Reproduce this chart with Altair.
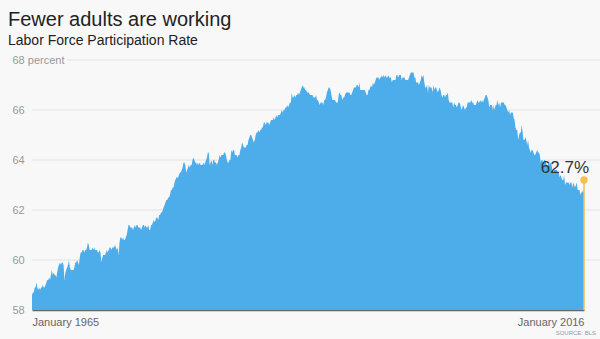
import altair as alt
import pandas as pd

# Monthly labor force participation rate (percent)
lfpr_1965_1969 = [
    58.6, 58.7, 58.7, 58.9, 58.9, 59.1, 58.9, 58.8, 58.9, 58.8, 58.9, 58.9,
    59.0, 58.9, 58.9, 59.0, 59.1, 59.2, 59.2, 59.3, 59.2, 59.4, 59.6, 59.4,
    59.5, 59.4, 59.4, 59.3, 59.5, 59.7, 59.8, 59.9, 59.8, 59.9, 59.9, 59.8,
    59.2, 59.5, 59.6, 59.7, 59.8, 60.0, 59.7, 59.6, 59.6, 59.6, 59.6, 59.7,
    59.9, 59.9, 60.0, 59.9, 59.8, 60.1, 60.3, 60.3, 60.4, 60.4, 60.3, 60.4,
]
lfpr_1970_1979 = [
    60.4, 60.5, 60.7, 60.6, 60.4, 60.4, 60.4, 60.5, 60.4, 60.5, 60.4, 60.4,
    60.4, 60.3, 60.3, 60.4, 60.3, 59.9, 60.1, 60.2, 60.2, 60.2, 60.3, 60.4,
    60.3, 60.4, 60.5, 60.5, 60.4, 60.5, 60.5, 60.5, 60.6, 60.5, 60.4, 60.5,
    60.2, 60.7, 60.9, 60.9, 60.8, 60.9, 60.8, 60.8, 60.9, 61.0, 61.2, 61.4,
    61.4, 61.3, 61.3, 61.3, 61.2, 61.3, 61.4, 61.3, 61.4, 61.4, 61.3, 61.3,
    61.3, 61.2, 61.3, 61.4, 61.4, 61.3, 61.4, 61.3, 61.3, 61.4, 61.2, 61.2,
    61.4, 61.4, 61.5, 61.6, 61.5, 61.6, 61.7, 61.7, 61.6, 61.8, 61.8, 61.9,
    61.9, 62.0, 62.1, 62.2, 62.3, 62.4, 62.4, 62.5, 62.5, 62.6, 62.8, 62.8,
    62.9, 62.9, 63.1, 63.2, 63.3, 63.3, 63.3, 63.4, 63.5, 63.5, 63.6, 63.7,
    63.9, 63.9, 63.8, 63.5, 63.6, 63.7, 63.8, 63.7, 63.8, 63.8, 64.0, 64.1,
]
lfpr_1980_1989 = [
    64.0, 63.9, 63.9, 63.8, 63.9, 63.8, 63.9, 63.8, 63.8, 63.8, 63.9, 63.8,
    63.9, 64.0, 64.1, 64.3, 64.3, 63.8, 63.9, 64.0, 63.8, 64.0, 64.0, 63.9,
    63.9, 63.8, 63.9, 64.0, 64.2, 64.1, 64.2, 64.2, 64.2, 64.3, 64.3, 64.2,
    64.0, 63.9, 63.9, 64.0, 64.0, 64.4, 64.3, 64.4, 64.4, 64.2, 64.2, 64.2,
    64.1, 64.2, 64.2, 64.4, 64.5, 64.7, 64.6, 64.5, 64.5, 64.5, 64.6, 64.6,
    64.8, 64.9, 65.0, 65.0, 64.9, 64.8, 64.7, 64.8, 65.0, 65.1, 65.1, 65.2,
    65.1, 65.2, 65.2, 65.3, 65.3, 65.5, 65.5, 65.4, 65.5, 65.5, 65.5, 65.4,
    65.5, 65.6, 65.6, 65.6, 65.7, 65.6, 65.7, 65.8, 65.7, 65.8, 65.8, 65.8,
    65.9, 66.0, 65.9, 66.0, 66.0, 66.1, 66.1, 66.2, 66.1, 66.2, 66.3, 66.3,
    66.7, 66.5, 66.5, 66.6, 66.5, 66.6, 66.6, 66.7, 66.6, 66.7, 66.8, 66.9,
]
lfpr_1990_1999 = [
    67.0, 66.9, 66.9, 66.8, 66.8, 66.7, 66.7, 66.7, 66.6, 66.6, 66.6, 66.6,
    66.5, 66.5, 66.5, 66.6, 66.4, 66.4, 66.3, 66.2, 66.3, 66.3, 66.3, 66.2,
    66.4, 66.4, 66.5, 66.7, 66.8, 66.9, 66.9, 66.8, 66.6, 66.4, 66.4, 66.4,
    66.4, 66.3, 66.3, 66.3, 66.6, 66.7, 66.6, 66.6, 66.4, 66.5, 66.5, 66.6,
    66.7, 66.7, 66.7, 66.7, 66.7, 66.6, 66.6, 66.7, 66.8, 66.9, 66.9, 66.9,
    67.0, 67.0, 66.9, 67.1, 66.8, 66.8, 66.8, 66.8, 66.8, 66.8, 66.7, 66.6,
    66.6, 66.8, 66.8, 66.9, 67.0, 66.9, 67.1, 67.0, 67.1, 67.2, 67.3, 67.3,
    67.3, 67.2, 67.3, 67.3, 67.4, 67.3, 67.4, 67.3, 67.4, 67.3, 67.3, 67.4,
    67.3, 67.3, 67.3, 67.1, 67.2, 67.2, 67.2, 67.2, 67.4, 67.4, 67.3, 67.4,
    67.4, 67.4, 67.2, 67.3, 67.3, 67.3, 67.2, 67.2, 67.2, 67.2, 67.3, 67.4,
]
lfpr_2000_2009 = [
    67.5, 67.5, 67.5, 67.5, 67.3, 67.3, 67.1, 67.1, 67.1, 67.0, 67.1, 67.2,
    67.4, 67.3, 67.4, 67.1, 66.9, 66.9, 67.0, 66.7, 67.0, 66.9, 66.9, 66.9,
    66.7, 67.0, 66.8, 66.9, 66.9, 66.8, 66.7, 66.8, 66.9, 66.8, 66.6, 66.5,
    66.6, 66.6, 66.5, 66.6, 66.6, 66.7, 66.4, 66.3, 66.3, 66.3, 66.3, 66.1,
    66.3, 66.2, 66.2, 66.1, 66.2, 66.3, 66.3, 66.2, 66.0, 66.1, 66.2, 66.1,
    66.0, 66.1, 66.1, 66.3, 66.3, 66.3, 66.3, 66.4, 66.3, 66.3, 66.2, 66.2,
    66.2, 66.3, 66.4, 66.3, 66.3, 66.4, 66.3, 66.4, 66.3, 66.4, 66.5, 66.6,
    66.6, 66.5, 66.4, 66.1, 66.2, 66.2, 66.2, 66.0, 66.2, 66.0, 66.2, 66.2,
    66.4, 66.2, 66.3, 66.1, 66.3, 66.3, 66.3, 66.3, 66.2, 66.2, 66.1, 66.0,
    65.9, 66.0, 65.8, 65.9, 65.9, 65.9, 65.7, 65.6, 65.3, 65.2, 65.2, 64.8,
]
lfpr_2010_2016 = [
    65.0, 65.1, 65.1, 65.4, 65.1, 64.8, 64.8, 64.9, 64.8, 64.6, 64.8, 64.5,
    64.4, 64.3, 64.4, 64.4, 64.3, 64.2, 64.2, 64.3, 64.4, 64.3, 64.3, 64.2,
    63.9, 64.0, 64.0, 63.9, 64.0, 64.0, 63.9, 63.7, 63.8, 64.0, 63.8, 63.9,
    63.8, 63.6, 63.5, 63.6, 63.6, 63.6, 63.6, 63.5, 63.5, 63.3, 63.4, 63.3,
    63.2, 63.2, 63.4, 63.0, 63.1, 63.1, 63.1, 63.1, 63.0, 63.1, 63.1, 62.9,
    63.1, 63.0, 62.9, 63.0, 63.1, 62.8, 62.8, 62.8, 62.6, 62.7, 62.7, 62.8,
    62.7,
]

first_month = "1965-01-01"
last_month = "2016-01-01"
marker_value = [63.2]
marker_label = ["62.7%"]
y_ticks = [58, 60, 62, 64, 66, 68]
grid_mid = [60, 62, 64, 66]
grid_top = [68]

values = (lfpr_1965_1969 + lfpr_1970_1979 + lfpr_1980_1989 +
          lfpr_1990_1999 + lfpr_2000_2009 + lfpr_2010_2016)
dates = pd.date_range(first_month, periods=len(values), freq="MS")
df = pd.DataFrame({"date": dates, "rate": values})

marker_df = pd.DataFrame({"date": [pd.Timestamp(last_month)],
                          "value": marker_value,
                          "label": marker_label,
                          "base": [58]})

W, H = 552, 250
FONT = "Liberation Sans"
BLUE = "#4cadea"
GOLD = "#f2c14e"

x_scale = alt.Scale(domain=[first_month, last_month], nice=False)
y_scale = alt.Scale(domain=[58, 68], nice=False, zero=False)

x_axis = alt.Axis(
    values=[pd.Timestamp(first_month).isoformat(), pd.Timestamp(last_month).isoformat()],
    format="%B %Y", labelFlush=True, tickSize=0, ticks=False, grid=False,
    domain=True, domainColor="#666", domainWidth=1.5, labelPadding=6,
    labelFont=FONT, labelFontSize=11, labelColor="#666", title=None,
)
y_axis = alt.Axis(
    values=y_ticks, labelExpr="datum.value == 68 ? '68 percent' : datum.label",
    labelAlign="left", labelPadding=20, tickSize=0, ticks=False, domain=False,
    grid=False, labelFont=FONT, labelFontSize=11, labelColor="#999", title=None,
)

grid_a = alt.Chart(pd.DataFrame({"g": grid_mid})).mark_rule(
    color="#e2e2e2", strokeWidth=1
).encode(y=alt.Y("g:Q", scale=y_scale), x=alt.value(0), x2=alt.value(W + 16))

grid_b = alt.Chart(pd.DataFrame({"g": grid_top})).mark_rule(
    color="#e2e2e2", strokeWidth=1
).encode(y=alt.Y("g:Q", scale=y_scale), x=alt.value(35), x2=alt.value(W + 16))

area = alt.Chart(df).mark_area(color=BLUE, opacity=1, interpolate="linear").encode(
    x=alt.X("date:T", scale=x_scale, axis=x_axis),
    y=alt.Y("rate:Q", scale=y_scale, axis=y_axis),
    y2=alt.datum(58),
)

stem = alt.Chart(marker_df).mark_rule(color=GOLD, strokeWidth=1.5).encode(
    x=alt.X("date:T", scale=x_scale),
    y=alt.Y("value:Q", scale=y_scale),
    y2="base:Q",
)
dot = alt.Chart(marker_df).mark_point(filled=True, color=GOLD, size=55, opacity=1).encode(
    x=alt.X("date:T", scale=x_scale),
    y=alt.Y("value:Q", scale=y_scale),
)
label = alt.Chart(marker_df).mark_text(
    align="right", baseline="alphabetic", dx=5, dy=-7, font=FONT,
    fontSize=17, color="#333",
).encode(
    x=alt.X("date:T", scale=x_scale),
    y=alt.Y("value:Q", scale=y_scale),
    text="label:N",
)

title = alt.Chart(pd.DataFrame({"t": ["Fewer adults are working"]})).mark_text(
    align="left", baseline="alphabetic", font=FONT, fontSize=20, color="#222"
).encode(x=alt.value(-24), y=alt.value(-34), text="t:N")
subtitle = alt.Chart(pd.DataFrame({"t": ["Labor Force Participation Rate"]})).mark_text(
    align="left", baseline="alphabetic", font=FONT, fontSize=14, color="#222"
).encode(x=alt.value(-24), y=alt.value(-15), text="t:N")
source = alt.Chart(pd.DataFrame({"t": ["SOURCE: BLS"]})).mark_text(
    align="right", baseline="middle", font=FONT, fontSize=6, color="#999"
).encode(x=alt.value(W + 12), y=alt.value(H + 23), text="t:N")

chart = alt.layer(
    grid_a, grid_b, area, stem, dot, label, title, subtitle, source
).properties(
    width=W, height=H,
    autosize=alt.AutoSizeParams(type="none"),
    padding={"left": 32, "top": 60, "right": 16, "bottom": 29},
).configure(background="#f8f8f8").configure_view(stroke=None)

chart.save("out.html", embed_options={"renderer": "svg", "actions": False})
